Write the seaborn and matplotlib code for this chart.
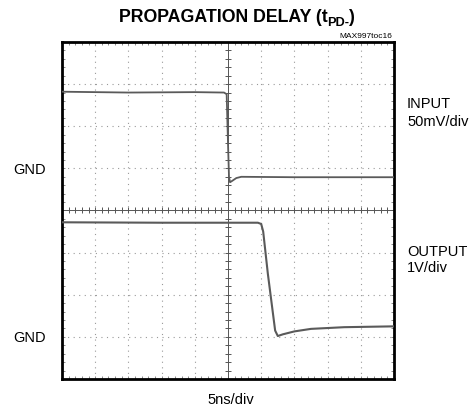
import numpy as np
import pandas as pd
import matplotlib
matplotlib.use('Agg')
import matplotlib.pyplot as plt
import seaborn as sns

# scope traces, in screen divisions (10 x 8 grid)
t_input = [0.0, 2.0, 4.0, 4.88, 4.96, 5.0, 5.03, 5.06, 5.12, 5.25, 5.4, 7.0, 10.0]
v_input = [6.82, 6.80, 6.81, 6.80, 6.76, 5.6, 4.8, 4.67, 4.70, 4.77, 4.80, 4.79, 4.79]
t_output = [0.0, 3.0, 5.9, 6.0, 6.06, 6.2, 6.42, 6.5, 6.65, 7.0, 7.5, 8.5, 10.0]
v_output = [3.72, 3.71, 3.71, 3.68, 3.5, 2.5, 1.15, 1.02, 1.06, 1.13, 1.19, 1.23, 1.25]

title_main = "PROPAGATION DELAY (t"
title_sub = "PD-"
title_end = ")"
part_no = "MAX997toc16"
x_label = "5ns/div"
ch_names = ["INPUT", "OUTPUT"]
ch_scales = ["50mV/div", "1V/div"]
gnd_levels = [4.95, 0.97]

sns.set_theme(style="white")
plt.rcParams['font.family'] = ['Liberation Sans Narrow', 'Liberation Sans', 'DejaVu Sans']
plt.rcParams['text.color'] = 'black'

df_in = pd.DataFrame({"t": t_input, "v": v_input})
df_out = pd.DataFrame({"t": t_output, "v": v_output})

W, H = 474, 411
fig = plt.figure(figsize=(W / 100, H / 100), dpi=100)
ax = fig.add_axes([62 / W, 1 - 379 / H, 332 / W, 337 / H])
ax.set_xlim(0, 10)
ax.set_ylim(0, 8)

# dotted graticule
for gx in range(1, 10):
    if gx != 5:
        ax.axvline(gx, color="#999999", lw=0.8, ls=(0, (1, 4)), zorder=1)
for gy in range(1, 8):
    if gy != 4:
        ax.axhline(gy, color="#999999", lw=0.8, ls=(0, (1, 4)), zorder=1)

# center cross with small ticks
ax.axvline(5, color="#555555", lw=0.7, zorder=1)
ax.axhline(4, color="#555555", lw=0.7, zorder=1)
tk = np.arange(0.2, 10, 0.2)
ax.plot(tk, np.full_like(tk, 4), ls="none", marker="|", ms=4, color="#555555", mew=0.7, zorder=1)
tk2 = np.arange(0.2, 8, 0.2)
ax.plot(np.full_like(tk2, 5), tk2, ls="none", marker="_", ms=4, color="#555555", mew=0.7, zorder=1)

sns.lineplot(data=df_in, x="t", y="v", ax=ax, color="#5a5a5a", lw=1.3, sort=False, zorder=3)
sns.lineplot(data=df_out, x="t", y="v", ax=ax, color="#5a5a5a", lw=1.5, sort=False, zorder=3)

ax.set_xticks(np.arange(0, 10.01, 0.2), minor=True)
ax.set_yticks(np.arange(0, 8.01, 0.2), minor=True)
ax.set_xticks([])
ax.set_yticks([])
ax.tick_params(which="minor", direction="in", length=2.5, width=0.6, color="#777777",
               top=True, right=True, bottom=True, left=True)
ax.set_xlabel("")
ax.set_ylabel("")
for s in ax.spines.values():
    s.set_color("black")
    s.set_linewidth(2)

# title with subscript, laid out piece by piece
renderer = fig.canvas.get_renderer()
parts = [(title_main, 12.8, 0), (title_sub, 9.2, -4), (title_end, 12.8, 0)]
pieces = []
for txt, fs, dy in parts:
    t = fig.text(0, 0, txt, fontsize=fs, fontweight="bold", ha="left", va="baseline")
    pieces.append((t, dy))
widths = [t.get_window_extent(renderer).width for t, _ in pieces]
x0 = W / 2 - sum(widths) / 2
base = H - 22
for (t, dy), w in zip(pieces, widths):
    t.set_position((x0 / W, (base + dy) / H))
    x0 += w

fig.text(392 / W, 1 - 37 / H, part_no, ha="right", va="center", fontsize=6)
fig.text(231 / W, 1 - 400 / H, x_label, ha="center", va="center", fontsize=10.5)

for name, scale, y_name, y_scale in zip(ch_names, ch_scales, [104, 252], [122, 268]):
    fig.text(407 / W, 1 - y_name / H, name, ha="left", va="center", fontsize=10.5)
    fig.text(407 / W, 1 - y_scale / H, scale, ha="left", va="center", fontsize=10.5)
for lvl in gnd_levels:
    ax.text(-0.5, lvl, "GND", ha="right", va="center", fontsize=10.5, clip_on=False)

fig.savefig("out.png", dpi=100)
